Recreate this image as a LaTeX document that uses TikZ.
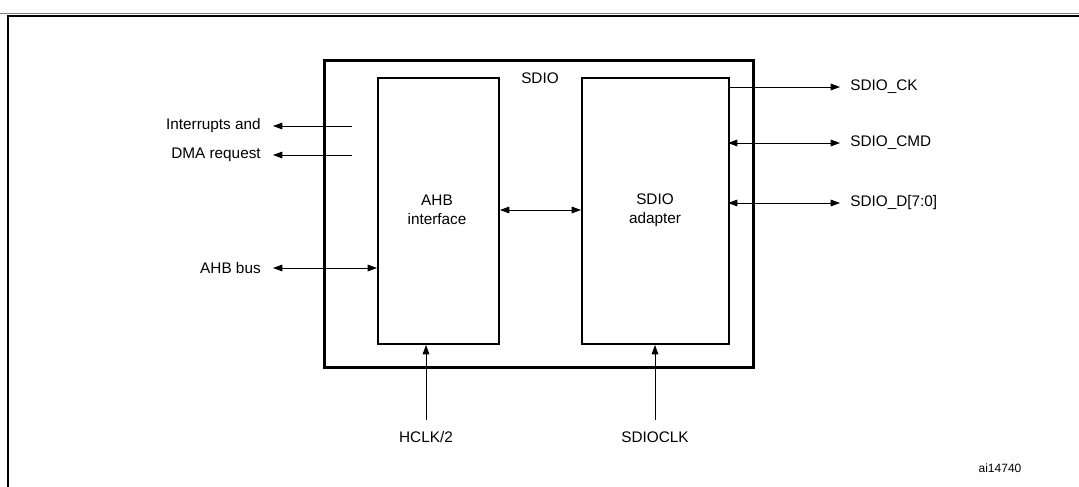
\documentclass[tikz,border=0pt]{standalone}
\usepackage{fontspec}
\setmainfont{Liberation Sans}
\usetikzlibrary{arrows.meta}
\begin{document}
\begin{tikzpicture}[x=0.75pt,y=-0.75pt,
  lbl/.style={font=\fontsize{11.5}{14}\selectfont, inner sep=0pt},
  blk/.style={draw, line width=1.5pt},
  ar/.style={-{Triangle[length=7pt,width=5pt]}, line width=0.6pt},
  dar/.style={{Triangle[length=7pt,width=5pt]}-{Triangle[length=7pt,width=5pt]}, line width=0.6pt}]
\useasboundingbox (0,0) rectangle (1079,486);
\draw[line width=1pt] (8,500) -- (8,16) -- (1090,16);
\draw[line width=0.6pt, gray] (0,13) -- (1079,13);
\node[draw, line width=2pt, minimum width=429*0.75pt, minimum height=307*0.75pt, anchor=north west] (sdio) at (323,59) {};
\node[blk, minimum width=121*0.75pt, minimum height=266*0.75pt, anchor=north west] (ahb) at (377,77) {};
\node[blk, minimum width=147*0.75pt, minimum height=266*0.75pt, anchor=north west] (ad) at (581,77) {};
\node[lbl] (sdiol) at (540,78) {SDIO};
\node[lbl, align=center] (ahbl) at (437,210) {AHB\\interface};
\node[lbl, align=center] (adl) at (655,210) {SDIO\\adapter};
\node[lbl, anchor=west] (ck) at (850,87) {SDIO\_CK};
\node[lbl, anchor=west] (cmd) at (850,143) {SDIO\_CMD};
\node[lbl, anchor=west] (dd) at (850,203) {SDIO\_D[7:0]};
\node[lbl, anchor=east] (int) at (261,126) {Interrupts and};
\node[lbl, anchor=east] (dma) at (261,155) {DMA request};
\node[lbl, anchor=east] (bus) at (261,268) {AHB bus};
\node[lbl] (hclk) at (426,437) {HCLK/2};
\node[lbl] (sclk) at (655,437) {SDIOCLK};
\node[lbl, font=\fontsize{9}{11}\selectfont] (ai) at (1000,468) {ai14740};
\draw[ar] (728,87) -- (840,87);
\draw[dar] (728,143) -- (840,143);
\draw[dar] (728,203) -- (840,203);
\draw[ar] (352,126) -- (273,126);
\draw[ar] (352,155) -- (273,155);
\draw[dar] (273,268) -- (ahb.west |- 0,268);
\draw[dar] (ahb.east |- 0,210) -- (ad.west |- 0,210);
\draw[ar] (426,420) -- (ahb.south -| 426,0);
\draw[ar] (655,420) -- (ad.south -| 655,0);
\end{tikzpicture}
\end{document}
